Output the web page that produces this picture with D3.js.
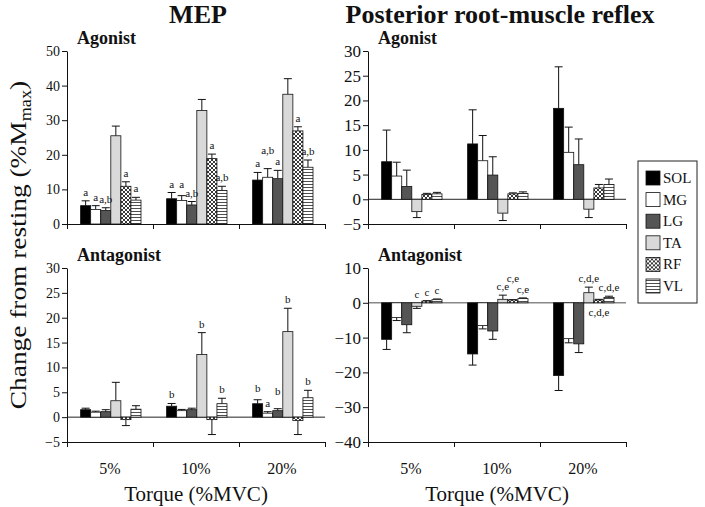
<!DOCTYPE html>
<html>
<head>
<meta charset="utf-8">
<script src="https://cdn.jsdelivr.net/npm/d3@7"></script>
<style>
  body { margin: 0; background: #fff; }
  svg text { font-family: "Liberation Serif", "Times New Roman", serif; fill: #111; }
  .axis path, .axis line { stroke: #111; stroke-width: 1; }
</style>
</head>
<body>
<svg id="chart" width="705" height="507"></svg>
<script>
// categories
var torque = ["5%", "10%", "20%"];
var muscles = ["SOL", "MG", "LG", "TA", "RF", "VL"];

// MEP, agonist (rows = muscles, cols = torque)
var mepAgoMean = [[5.3, 7.3, 12.7], [4.2, 6.8, 13.5], [3.9, 5.5, 13.1], [25.5, 32.8, 37.5], [10.9, 18.9, 26.9], [6.9, 9.7, 16.4]];
var mepAgoSD   = [[1.4, 1.8, 2.2], [1.1, 1.4, 2.5], [0.8, 1.0, 2.4], [2.8, 3.2, 4.5], [1.3, 1.3, 1.2], [0.8, 1.2, 2.1]];
var mepAgoSig  = [["a", "a", "a"], ["a", "a", "a,b"], ["a,b", "a,b", "a"], ["", "", ""], ["a", "a", "a"], ["a", "a,b", "a,b"]];

// MEP, antagonist
var mepAntMean = [[1.5, 2.2, 2.7], [1.0, 1.3, 0.8], [1.1, 1.5, 1.3], [3.3, 12.6, 17.2], [-0.5, -0.5, -0.7], [1.6, 2.7, 3.9]];
var mepAntSD   = [[0.3, 0.55, 0.8], [0.2, 0.25, 0.3], [0.4, 0.3, 0.4], [3.7, 4.4, 4.7], [1.2, 3.0, 2.8], [0.7, 1.1, 1.5]];
var mepAntSig  = [["", "b", "b"], ["", "", "a"], ["", "", "b"], ["", "b", "b"], ["", "", ""], ["", "b", "b"]];

// posterior root-muscle reflex, agonist
var prmAgoMean = [[7.6, 11.2, 18.4], [4.7, 7.8, 9.5], [2.6, 4.9, 7.0], [-2.5, -2.8, -2.0], [1.0, 1.1, 2.3], [1.1, 1.2, 3.0]];
var prmAgoSD   = [[6.4, 6.9, 8.4], [2.8, 5.1, 5.1], [3.3, 3.7, 5.2], [1.2, 1.5, 1.7], [0.2, 0.2, 0.7], [0.3, 0.3, 1.1]];
var prmAgoSig  = [["", "", ""], ["", "", ""], ["", "", ""], ["", "", ""], ["", "", ""], ["", "", ""]];

// posterior root-muscle reflex, antagonist
var prmAntMean = [[-10.5, -14.7, -20.9], [-4.2, -6.5, -10.3], [-6.3, -8.1, -11.8], [-1.0, 1.0, 2.9], [0.5, 0.8, 0.8], [0.9, 1.2, 1.5]];
var prmAntSD   = [[2.9, 3.2, 4.3], [0.9, 1.0, 1.2], [2.3, 2.4, 2.5], [0.6, 1.2, 1.6], [0.1, 0.1, 0.2], [0.2, 0.2, 0.4]];
var prmAntSig  = [["", "", ""], ["", "", ""], ["", "", ""], ["c", "c,e", "c,d,e"], ["c", "c,e", "c,d,e"], ["c", "c,e", "c,d,e"]];

var svg = d3.select("#chart");
var serif = "'Liberation Serif', 'Times New Roman', serif";

// fills for the muscles
var defs = svg.append("defs");
var cross = defs.append("pattern").attr("id", "pat-rf").attr("patternUnits", "userSpaceOnUse")
  .attr("width", 4).attr("height", 4);
cross.append("rect").attr("width", 4).attr("height", 4).attr("fill", "#fff");
cross.append("path").attr("d", "M0,0L4,4M4,0L0,4").attr("stroke", "#222").attr("stroke-width", 0.9);
var hlines = defs.append("pattern").attr("id", "pat-vl").attr("patternUnits", "userSpaceOnUse")
  .attr("width", 4).attr("height", 3);
hlines.append("rect").attr("width", 4).attr("height", 3).attr("fill", "#fff");
hlines.append("path").attr("d", "M0,1.5H4").attr("stroke", "#222").attr("stroke-width", 0.8);

var fill = d3.scaleOrdinal()
  .domain(muscles)
  .range(["#000", "#fff", "#555", "#d9d9d9", "url(#pat-rf)", "url(#pat-vl)"]);

// label nudges (px) for crowded significance letters
var nudge = {"tl-MG-2": -10, "tl-MG-1": -3, "bl-LG-2": -9, "bl-SOL-2": -3, "br-RF-1": -13};
var below = {"br-RF-2": true};

var panels = [
  {id: "tl", x0: 67, x1: 325, top: 51, bot: 224, dom: [0, 50], ticks: d3.range(0, 51, 10), mean: mepAgoMean, sd: mepAgoSD, sig: mepAgoSig, sub: "Agonist", fs: 14},
  {id: "bl", x0: 67, x1: 325, top: 268, bot: 442, dom: [-5, 30], ticks: d3.range(-5, 31, 5), mean: mepAntMean, sd: mepAntSD, sig: mepAntSig, sub: "Antagonist", fs: 14},
  {id: "tr", x0: 368, x1: 626, top: 51, bot: 224, dom: [-5, 30], ticks: d3.range(-5, 31, 5), mean: prmAgoMean, sd: prmAgoSD, sig: prmAgoSig, sub: "Agonist", fs: 17},
  {id: "br", x0: 368, x1: 626, top: 268, bot: 442, dom: [-40, 10], ticks: d3.range(-40, 11, 10), mean: prmAntMean, sd: prmAntSD, sig: prmAntSig, sub: "Antagonist", fs: 17}
];

panels.forEach(function(p) {
  var g = svg.append("g");
  var y = d3.scaleLinear().domain(p.dom).range([p.bot, p.top]);
  var x = d3.scaleBand().domain(torque).range([p.x0, p.x1]);
  var xm = d3.scaleBand().domain(muscles).range([13.6, 74]);

  // zero line
  if (p.dom[0] < 0) {
    g.append("line")
      .attr("x1", p.x0).attr("x2", p.x1)
      .attr("y1", y(0)).attr("y2", y(0))
      .attr("stroke", p.id == "br" ? "#888" : "#222")
      .attr("stroke-width", p.id == "br" ? 1.6 : 1);
  }

  var rows = [];
  muscles.forEach(function(m, i) {
    torque.forEach(function(t, j) {
      rows.push({m: m, t: t, v: p.mean[i][j], e: p.sd[i][j], s: p.sig[i][j], key: p.id + "-" + m + "-" + j});
    });
  });

  // error bars (outward from the bar end)
  var eb = g.selectAll(".err").data(rows).enter().append("g").attr("class", "err");
  eb.append("line")
    .attr("x1", d => x(d.t) + xm(d.m) + xm.bandwidth() / 2)
    .attr("x2", d => x(d.t) + xm(d.m) + xm.bandwidth() / 2)
    .attr("y1", d => y(d.v))
    .attr("y2", d => y(d.v + (d.v < 0 ? -d.e : d.e)))
    .attr("stroke", "#111").attr("stroke-width", 1);
  eb.append("line")
    .attr("x1", d => x(d.t) + xm(d.m) + xm.bandwidth() / 2 - 4)
    .attr("x2", d => x(d.t) + xm(d.m) + xm.bandwidth() / 2 + 4)
    .attr("y1", d => y(d.v + (d.v < 0 ? -d.e : d.e)))
    .attr("y2", d => y(d.v + (d.v < 0 ? -d.e : d.e)))
    .attr("stroke", "#111").attr("stroke-width", 1);

  g.selectAll(".bar").data(rows).enter().append("rect")
    .attr("class", "bar")
    .attr("x", d => x(d.t) + xm(d.m))
    .attr("width", xm.bandwidth())
    .attr("y", d => y(Math.max(0, d.v)))
    .attr("height", d => Math.abs(y(d.v) - y(0)))
    .attr("fill", d => fill(d.m))
    .attr("stroke", "#111").attr("stroke-width", 0.8);

  // significance letters
  g.selectAll(".sig").data(rows.filter(d => d.s)).enter().append("text")
    .attr("class", "sig")
    .attr("x", d => x(d.t) + xm(d.m) + xm.bandwidth() / 2)
    .attr("y", function(d) {
      if (below[d.key]) return y(0) + 13;
      var top = d.v > 0 ? d.v + d.e : 0;
      return y(top) - 5 + (nudge[d.key] || 0);
    })
    .attr("text-anchor", "middle")
    .attr("fill", "#222")
    .style("font-size", "11px")
    .text(d => d.s);

  // axes
  var yAxis = g.append("g").attr("class", "axis")
    .attr("transform", "translate(" + p.x0 + ",0)")
    .call(d3.axisLeft(y).tickValues(p.ticks).tickSize(5).tickSizeOuter(0).tickPadding(2));
  yAxis.selectAll("text").style("font-size", p.fs + "px").style("font-family", serif).attr("fill", "#111");

  var xl = d3.scaleLinear().domain([0, 3]).range([p.x0, p.x1]);
  g.append("g").attr("class", "axis")
    .attr("transform", "translate(0," + p.bot + ")")
    .call(d3.axisBottom(xl).tickValues([0, 1, 2, 3]).tickFormat("").tickSize(5).tickSizeOuter(0));

  g.append("text")
    .attr("x", p.x0 + 10).attr("y", p.top - 7)
    .style("font-size", "18px").style("font-weight", "bold")
    .text(p.sub);

  if (p.id == "bl" || p.id == "br") {
    g.selectAll(".cat").data(torque).enter().append("text")
      .attr("x", d => x(d) + x.bandwidth() / 2)
      .attr("y", 474)
      .attr("text-anchor", "middle")
      .style("font-size", "16px")
      .text(d => d);
    g.append("text")
      .attr("x", (p.x0 + p.x1) / 2).attr("y", 501)
      .attr("text-anchor", "middle")
      .style("font-size", "21px")
      .text("Torque (%MVC)");
  }
});

// titles
svg.append("text").attr("x", 198).attr("y", 23).attr("text-anchor", "middle")
  .style("font-size", "26px").style("font-weight", "bold").text("MEP");
svg.append("text").attr("x", 500).attr("y", 23).attr("text-anchor", "middle")
  .style("font-size", "26px").style("font-weight", "bold").text("Posterior root-muscle reflex");

// y label, stretched along its length like the source figure
var yl = svg.append("text")
  .attr("transform", "translate(26,245) rotate(-90) scale(1.14,1)")
  .attr("text-anchor", "middle")
  .style("font-size", "24px");
yl.append("tspan").text("Change from resting (%M");
yl.append("tspan").attr("dy", 5).style("font-size", "16px").text("max");
yl.append("tspan").attr("dy", -5).text(")");

// legend
var leg = svg.append("g").attr("transform", "translate(638,161)");
leg.append("rect").attr("width", 59).attr("height", 142)
  .attr("fill", "#fff").attr("stroke", "#222").attr("stroke-width", 1);
var li = leg.selectAll(".li").data(muscles).enter().append("g")
  .attr("transform", (d, i) => "translate(8," + (10 + i * 21.6) + ")");
li.append("rect").attr("width", 14).attr("height", 14)
  .attr("fill", d => fill(d)).attr("stroke", "#111").attr("stroke-width", 0.8);
li.append("text").attr("x", 17).attr("y", 12).style("font-size", "15px").text(d => d);
</script>
</body>
</html>
